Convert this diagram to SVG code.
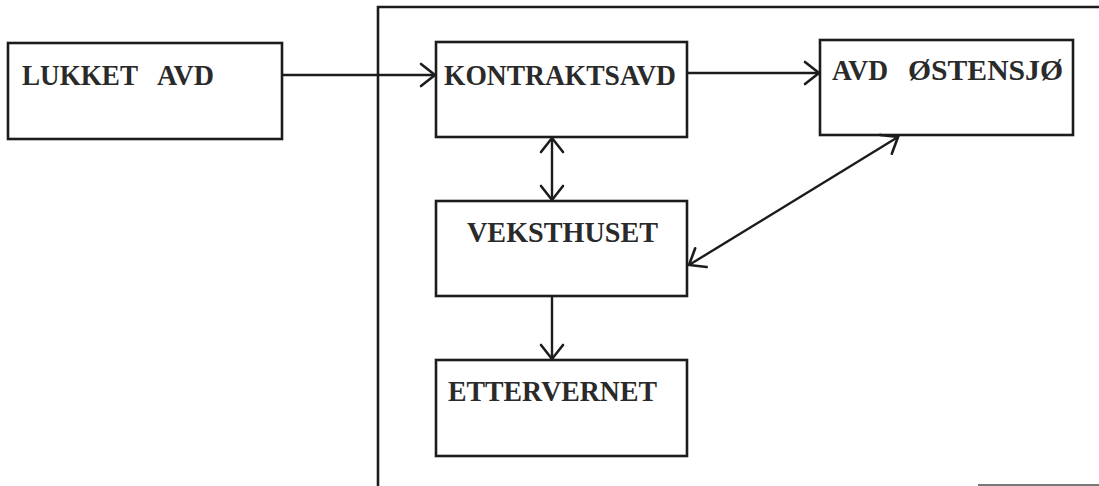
<svg xmlns="http://www.w3.org/2000/svg" width="1099" height="486" viewBox="0 0 1099 486">
<style>
.box{fill:#fff;stroke:#1c1c1c;stroke-width:2.6}
.lbl{font-family:"Liberation Serif","DejaVu Serif",serif;font-weight:bold;font-size:30px;fill:#2a2a2a}
.con{fill:none;stroke:#1c1c1c;stroke-width:2.4}
.frame{fill:none;stroke:#1c1c1c;stroke-width:2.6}
</style>
<defs>
<marker id="ah" markerUnits="userSpaceOnUse" markerWidth="30" markerHeight="30" viewBox="-16 -15 20 30" refX="0" refY="0" orient="auto-start-reverse">
<path d="M-14,-11 L0,0 L-14,11" fill="none" stroke="#1c1c1c" stroke-width="2.6" stroke-linecap="round"/>
</marker>
</defs>
<rect width="1099" height="486" fill="#fff"/>
<g id="frame">
<path class="frame" d="M378,486 L378,7 L1099,7"/>
<line x1="978" y1="485" x2="1099" y2="485" stroke="#777" stroke-width="2"/>
</g>
<g id="lukket">
<rect class="box" x="8" y="43" width="274" height="96"/>
<text class="lbl" y="85"><tspan x="22" textLength="116" lengthAdjust="spacingAndGlyphs">LUKKET</tspan><tspan x="157" textLength="57" lengthAdjust="spacingAndGlyphs">AVD</tspan></text>
</g>
<g id="kontrakt">
<rect class="box" x="436" y="42" width="251" height="95"/>
<text class="lbl" x="444" y="85" textLength="232" lengthAdjust="spacingAndGlyphs">KONTRAKTSAVD</text>
</g>
<g id="ostensjo">
<rect class="box" x="820" y="40" width="253" height="95"/>
<text class="lbl" y="80"><tspan x="832" textLength="56" lengthAdjust="spacingAndGlyphs">AVD</tspan><tspan x="908" textLength="155" lengthAdjust="spacingAndGlyphs">ØSTENSJØ</tspan></text>
</g>
<g id="veksthuset">
<rect class="box" x="436" y="201" width="251" height="95"/>
<text class="lbl" x="467" y="242" textLength="191" lengthAdjust="spacingAndGlyphs">VEKSTHUSET</text>
</g>
<g id="ettervernet">
<rect class="box" x="436" y="360" width="251" height="96"/>
<text class="lbl" x="448" y="401" textLength="209" lengthAdjust="spacingAndGlyphs">ETTERVERNET</text>
</g>
<g id="connectors">
<line class="con" x1="282" y1="75" x2="435" y2="75" marker-end="url(#ah)"/>
<line class="con" x1="687" y1="73" x2="819" y2="73" marker-end="url(#ah)"/>
<line class="con" x1="552" y1="138" x2="552" y2="200" marker-start="url(#ah)" marker-end="url(#ah)"/>
<line class="con" x1="898" y1="137" x2="689" y2="265" marker-start="url(#ah)" marker-end="url(#ah)"/>
<line class="con" x1="552" y1="296" x2="552" y2="359" marker-end="url(#ah)"/>
</g>
</svg>
